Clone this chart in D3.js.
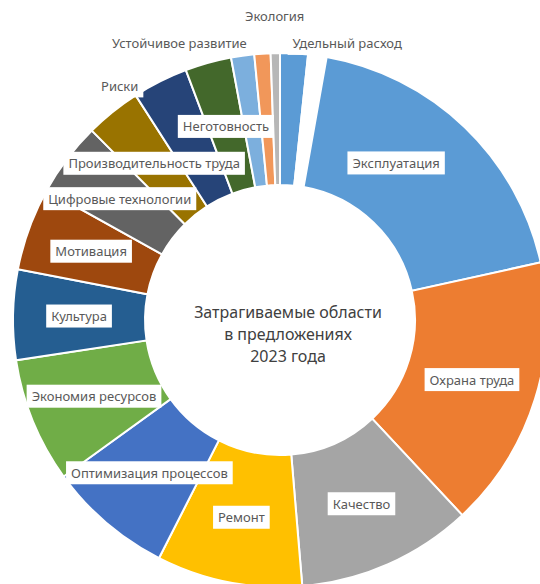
<!DOCTYPE html>
<html>
<head>
<meta charset="utf-8">
<script src="https://cdn.jsdelivr.net/npm/d3@7"></script>
<style>
  body { margin: 0; background: #fff; }
  svg { display: block; font-family: "Noto Sans", "Open Sans", sans-serif; }
</style>
</head>
<body>
<div id="chart"></div>
<script>
// области, по часовой стрелке от 12 часов
const categories = [
    "Удельный расход", "", "Эксплуатация", "Охрана труда", "Качество", "Ремонт",
    "Оптимизация процессов", "Экономия ресурсов", "Культура", "Мотивация",
    "Цифровые технологии", "Производительность труда", "Риски", "Неготовность",
    "Устойчивое развитие", "", "Экология"
];
const values = [6, 4, 67, 59, 38, 31.5, 27, 27, 19.5, 18, 16, 12, 12, 10, 5, 3.5, 2];
const colors = [
    "#5b9bd5", "#ffffff", "#5b9bd5", "#ed7d31", "#a5a5a5", "#ffc000",
    "#4472c4", "#70ad47", "#255e91", "#9e480e",
    "#636363", "#997300", "#264478", "#43682b",
    "#7cafdd", "#f1975a", "#b7b7b7"
];
const titleLines = ["Затрагиваемые области", "в предложениях", "2023 года"];

const width = 540, height = 584;
const cx = 280, cy = 320;
const outerR = 267, innerR = 135;

// подписи снаружи кольца: радиус, выравнивание, сдвиг
const outside = {
    "Удельный расход": { r: 277, anchor: "start", dx: -2 },
    "Экология": { r: 304, anchor: "middle", dx: 0 },
    "Устойчивое развитие": { r: 280, anchor: "end", dx: 6 },
    "Риски": { r: 262, anchor: "end", dx: -24 }
};
// небольшие сдвиги подписей внутри кольца
const nudge = { "Эксплуатация": [-23, -12] };

const data = categories.map((c, i) => ({ name: c, value: values[i], color: colors[i] }));

const svg = d3.select("#chart").append("svg")
    .attr("width", width)
    .attr("height", height);

const g = svg.append("g").attr("transform", `translate(${cx},${cy})`);

const pie = d3.pie().value(d => d.value).sort(null);
const arc = d3.arc().innerRadius(innerR).outerRadius(outerR);
const arcs = pie(data);

g.selectAll("path.slice")
    .data(arcs)
    .join("path")
    .attr("class", "slice")
    .attr("d", arc)
    .attr("fill", d => d.data.color)
    .attr("stroke", "#fff")
    .attr("stroke-width", 2);

// подписи с белой подложкой
const labelled = arcs.filter(d => d.data.name !== "");
const lab = g.selectAll("g.lab")
    .data(labelled)
    .join("g")
    .attr("class", "lab");

lab.each(function (d) {
    const o = outside[d.data.name];
    let x, y, anchor = "middle";
    if (o) {
        const a = (d.startAngle + d.endAngle) / 2;
        x = Math.sin(a) * o.r + o.dx;
        y = -Math.cos(a) * o.r;
        anchor = o.anchor;
    } else {
        [x, y] = arc.centroid(d);
        const n = nudge[d.data.name];
        if (n) { x += n[0]; y += n[1]; }
    }
    const sel = d3.select(this);
    const rect = sel.append("rect").attr("fill", "#fff");
    const t = sel.append("text")
        .attr("x", x)
        .attr("y", y)
        .attr("text-anchor", anchor)
        .attr("dominant-baseline", "central")
        .attr("font-size", 13)
        .attr("fill", "#595959")
        .text(d.data.name);
    const w = t.node().getComputedTextLength();
    const left = anchor === "start" ? x : anchor === "end" ? x - w : x - w / 2;
    rect.attr("x", left - 5).attr("y", y - 11.5)
        .attr("width", w + 10).attr("height", 23);
});

// заголовок в центре
g.append("text")
    .attr("text-anchor", "middle")
    .attr("font-size", 16)
    .attr("fill", "#404040")
    .selectAll("tspan")
    .data(titleLines)
    .join("tspan")
    .attr("x", 8)
    .attr("y", (d, i) => -2 + i * 22)
    .text(d => d);
</script>
</body>
</html>
